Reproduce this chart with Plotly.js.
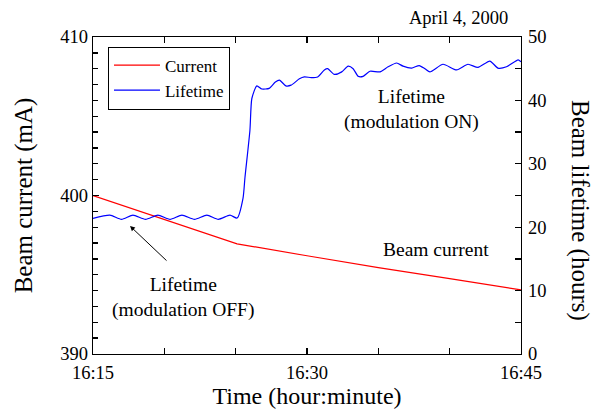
<!DOCTYPE html>
<html>
<head>
<meta charset="utf-8">
<script src="https://cdn.plot.ly/plotly-3.0.1.min.js"></script>
<style>html,body{margin:0;padding:0;background:#fff;}#chart{width:597px;height:409px;}</style>
</head>
<body>
<div id="chart"></div>
<script>
// Minutes after 16:15 on April 4, 2000
const currentMinutes = [0, 10.1, 15, 20, 25, 30];
const currentValues  = [400.0, 396.95, 396.2, 395.45, 394.75, 394.05]; // mA

const lifetimeMinutes = [0, 1.19, 2.0, 2.80, 3.68, 4.55, 5.40, 6.24, 7.11, 7.99, 8.79, 9.60, 10.1,
  10.51, 10.65, 11.0, 11.14, 11.49, 11.84, 12.35, 12.78, 13.06, 13.52, 13.88, 14.46, 14.81,
  15.28, 15.75, 16.21, 16.45, 16.91, 17.43, 17.89, 18.24, 18.59, 18.94, 19.41, 20.11, 20.69,
  21.28, 21.74, 22.33, 22.87, 23.27, 23.62, 24.53, 25.49, 26.28, 26.98, 27.82, 28.38, 28.99,
  29.80, 30.0];
const lifetimeValues = [21.4, 21.9, 21.25, 21.9, 21.25, 21.9, 21.25, 21.9, 21.25, 21.9, 21.25, 21.9, 21.45,
  24.6, 27.8, 35.3, 40.3, 42.3, 41.8, 41.9, 42.9, 43.2, 42.3, 42.4, 43.4, 43.7,
  43.6, 43.7, 44.8, 45.0, 44.1, 44.5, 45.4, 45.0, 43.8, 43.8, 44.6, 44.5, 45.3,
  45.9, 45.4, 45.1, 45.5, 45.0, 44.5, 45.7, 44.8, 45.7, 45.2, 46.2, 45.1, 45.3,
  46.4, 46.1]; // hours

const xTickLabelsFormat = '%H:%M';

function pad(n){ return String(n).padStart(2,'0'); }
function toTime(m){
  const total = 16*3600 + 15*60 + Math.round(m*60);
  const h = Math.floor(total/3600), mm = Math.floor((total%3600)/60), ss = total%60;
  return `2000-04-04 ${pad(h)}:${pad(mm)}:${pad(ss)}`;
}

const FONT = 'Liberation Serif, Times New Roman, serif';
const xRange = [toTime(0), toTime(30)];

const traces = [
  { x: currentMinutes.map(toTime), y: currentValues, name: 'Current', type: 'scatter', mode: 'lines',
    line: {color: '#ff0000', width: 1.2}, xaxis: 'x', yaxis: 'y' },
  { x: lifetimeMinutes.map(toTime), y: lifetimeValues, name: 'Lifetime', type: 'scatter', mode: 'lines',
    line: {color: '#0000ff', width: 1.2, shape: 'spline', smoothing: 0.6}, xaxis: 'x', yaxis: 'y2' },
  // invisible helper so the top (mirror) time axis with its ticks is drawn
  { x: currentMinutes.map(toTime), y: currentValues, type: 'scatter', mode: 'lines', showlegend: false,
    hoverinfo: 'skip', line: {width: 0, color: 'rgba(0,0,0,0)'}, xaxis: 'x2', yaxis: 'y' }
];

const tickCommon = {ticks: 'inside', tickcolor: '#000', tickwidth: 1.3, showgrid: false, zeroline: false,
  showline: true, linecolor: '#000', linewidth: 1.3};

const layout = {
  width: 597, height: 409,
  margin: {l: 93, r: 76, t: 37, b: 55},
  paper_bgcolor: '#fff', plot_bgcolor: '#fff',
  font: {family: FONT, size: 18, color: '#000'},
  showlegend: true,
  legend: {x: 0.035, y: 0.97, xanchor: 'left', yanchor: 'top', bordercolor: '#000', borderwidth: 1,
    bgcolor: '#fff', font: {family: FONT, size: 17}, tracegroupgap: 0, itemwidth: 46},
  xaxis: Object.assign({}, tickCommon, {
    type: 'date', range: xRange, tick0: toTime(0), dtick: 900000,
    tickformat: xTickLabelsFormat, ticklen: 6,
    minor: {dtick: 300000, ticks: 'inside', ticklen: 6, tickcolor: '#000', tickwidth: 1.3, showgrid: false},
    tickfont: {family: FONT, size: 18.5}, ticklabelstandoff: 1,
    title: {text: 'Time (hour:minute)', font: {family: FONT, size: 24}, standoff: 8}
  }),
  xaxis2: Object.assign({}, tickCommon, {
    type: 'date', overlaying: 'x', side: 'top', range: xRange, tick0: toTime(0), dtick: 300000,
    ticklen: 6, showticklabels: false
  }),
  yaxis: Object.assign({}, tickCommon, {
    range: [390, 410], tick0: 390, dtick: 10, ticklen: 6,
    minor: {dtick: 1, ticks: 'inside', ticklen: 5, tickcolor: '#000', tickwidth: 1.3, showgrid: false},
    tickfont: {family: FONT, size: 18.5}, ticklabelstandoff: 0,
    title: {text: 'Beam current (mA)', font: {family: FONT, size: 25}, standoff: 20}
  }),
  yaxis2: Object.assign({}, tickCommon, {
    overlaying: 'y', side: 'right', range: [0, 50], dtick: 10, tick0: 0, ticklen: 6,
    minor: {dtick: 5, ticks: 'inside', ticklen: 6, tickcolor: '#000', tickwidth: 1.3, showgrid: false},
    tickfont: {family: FONT, size: 18.5}, ticklabelstandoff: 2
  }),
  annotations: [
    {xref: 'paper', yref: 'paper', x: 0.975, y: 1.06, xanchor: 'right', yanchor: 'middle', showarrow: false,
      text: 'April 4, 2000', font: {family: FONT, size: 18.5}},
    {xref: 'paper', yref: 'paper', x: (411-93)/428, y: (354-109)/317, xanchor: 'center', yanchor: 'middle', showarrow: false,
      text: 'Lifetime<br>(modulation ON)', font: {family: FONT, size: 19.5}},
    {xref: 'paper', yref: 'paper', x: (183-93)/428, y: (354-297)/317, xanchor: 'center', yanchor: 'middle', showarrow: false,
      text: 'Lifetime<br>(modulation OFF)', font: {family: FONT, size: 19.5}},
    {xref: 'paper', yref: 'paper', x: (436-93)/428, y: (354-249)/317, xanchor: 'center', yanchor: 'middle', showarrow: false,
      text: 'Beam current', font: {family: FONT, size: 19.5}},
    {xref: 'paper', yref: 'paper', x: (130-93)/428, y: (354-226)/317, text: '', showarrow: true,
      ax: 38, ay: 36, arrowhead: 2, arrowsize: 1, arrowwidth: 1, arrowcolor: '#000'},
    {xref: 'paper', yref: 'paper', x: (580-93)/428, y: (354-210)/317, xanchor: 'center', yanchor: 'middle', showarrow: false,
      textangle: 90, text: 'Beam lifetime (hours)', font: {family: FONT, size: 25}}
  ]
};

Plotly.newPlot('chart', traces, layout, {displayModeBar: false, staticPlot: true});
</script>
</body>
</html>
